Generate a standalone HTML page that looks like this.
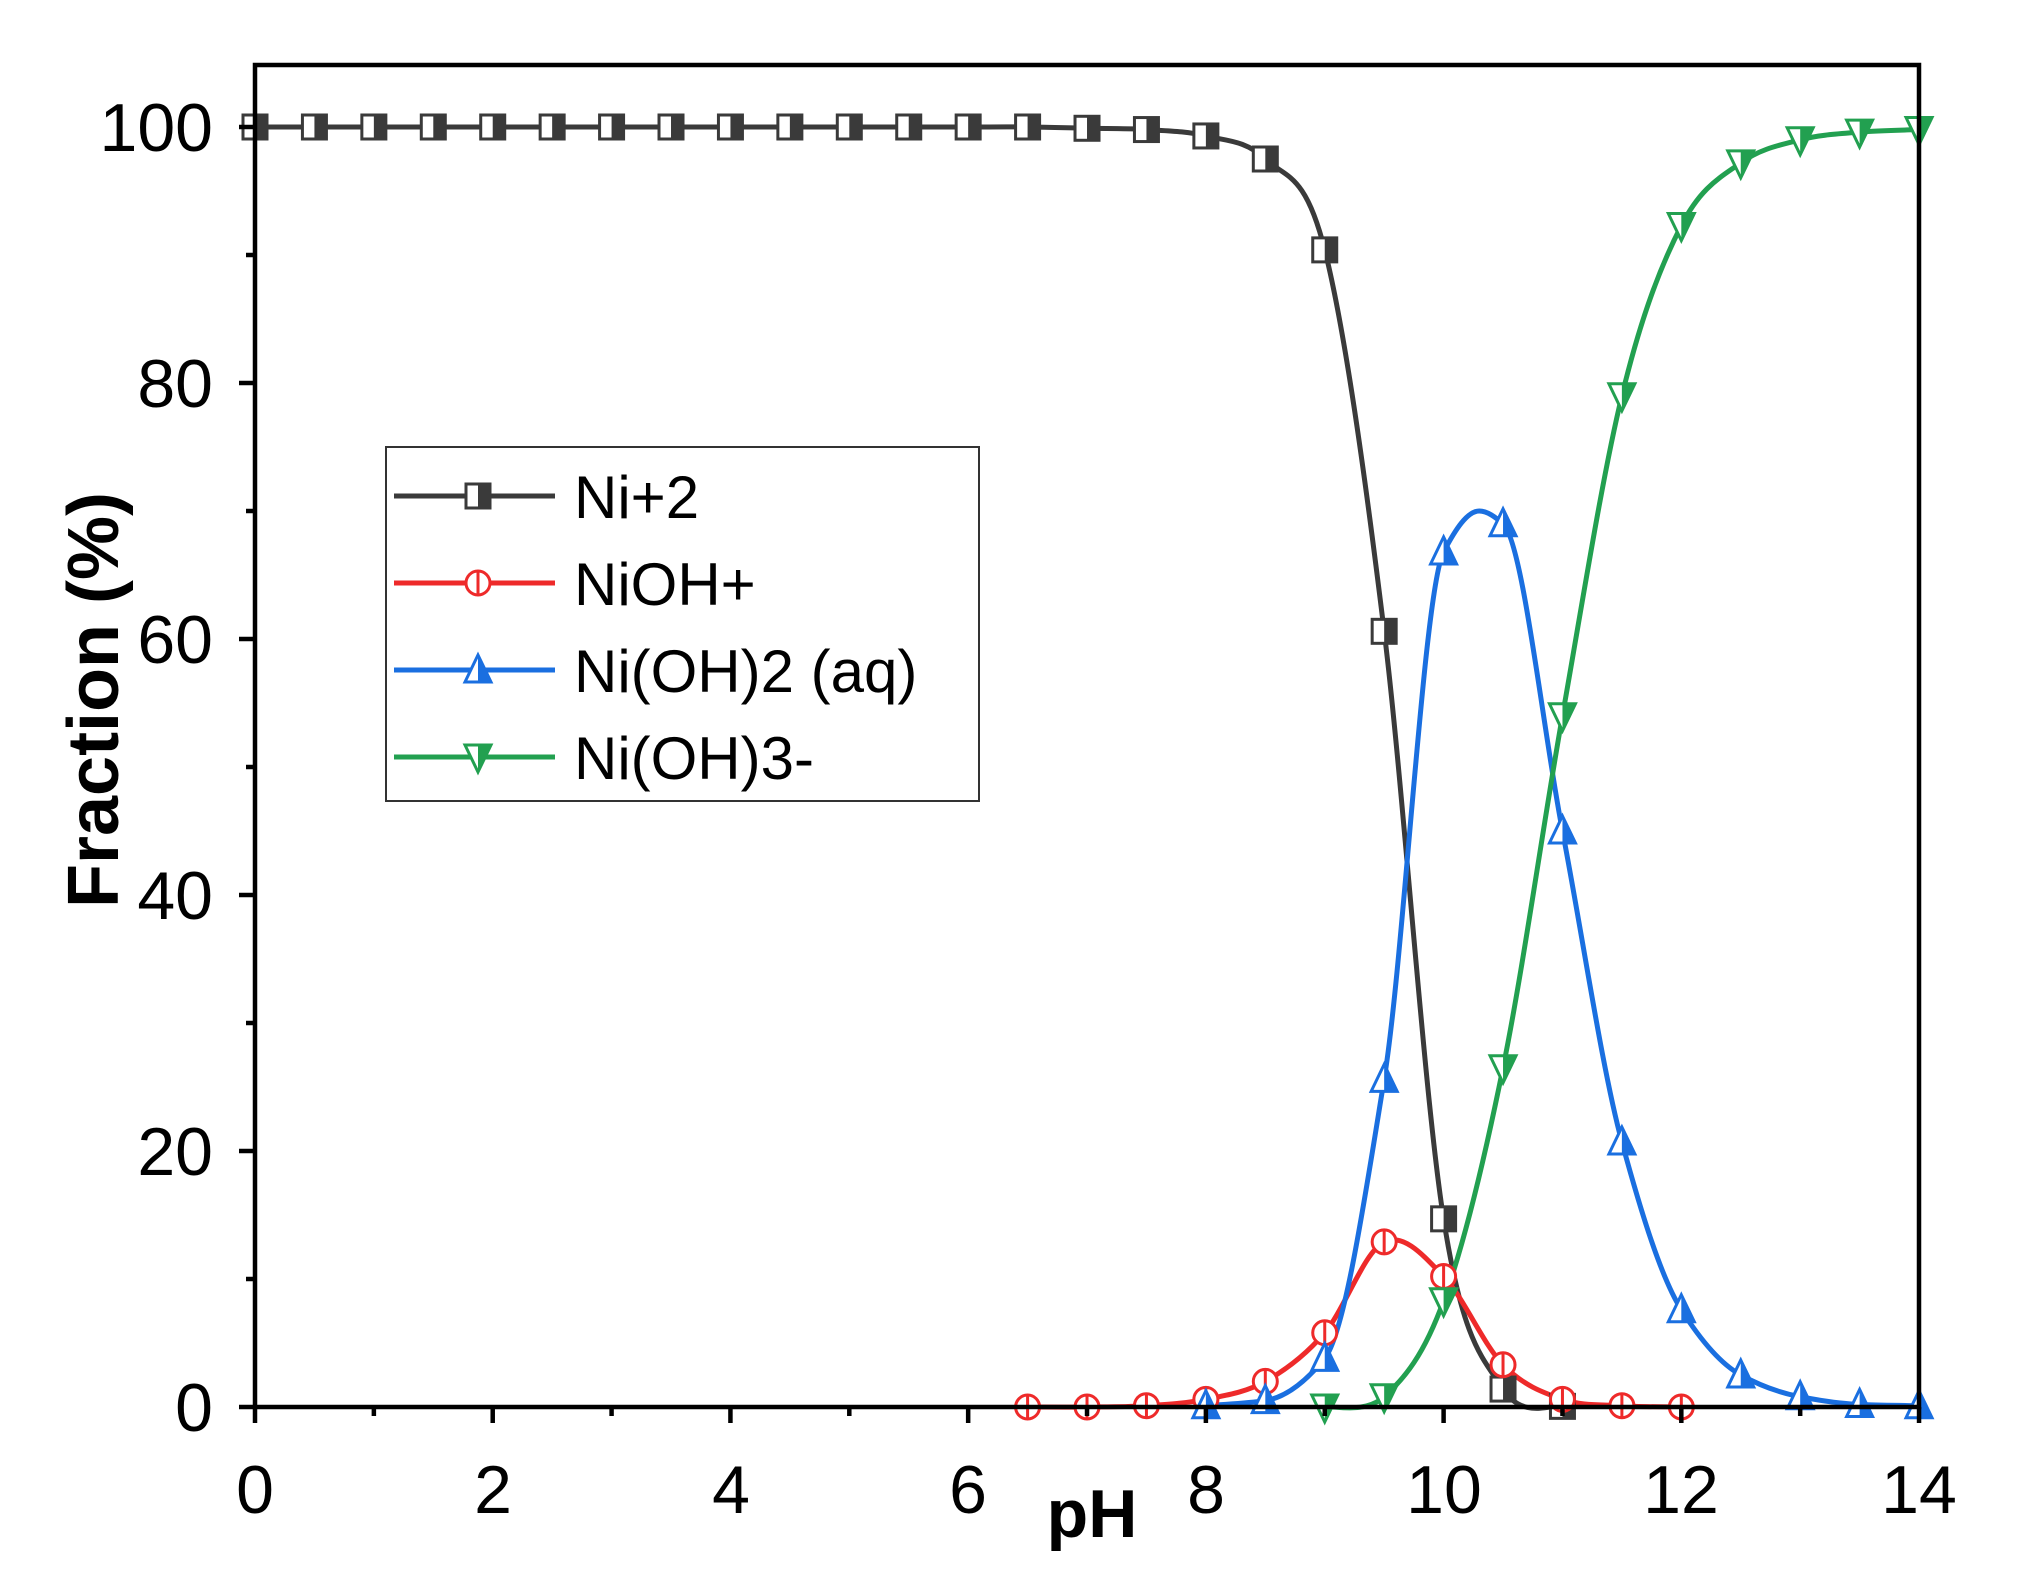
<!DOCTYPE html>
<html><head><meta charset="utf-8"><style>
html,body{margin:0;padding:0;background:#fff;}
svg{display:block;font-family:"Liberation Sans",Arial,sans-serif;}
</style></head><body>
<svg id="s" width="2020" height="1592" viewBox="0 0 2020 1592" xmlns="http://www.w3.org/2000/svg">
<rect x="0" y="0" width="2020" height="1592" fill="#fff"/>
<g id="plot"></g>
<rect x="255" y="65" width="1664" height="1342" fill="none" stroke="#000" stroke-width="4.5"/>
<g id="ticks" stroke="#000" stroke-width="4.5"></g>
<g font-size="68" fill="#000">
<text x="213" y="1431" text-anchor="end">0</text>
<text x="213" y="1175" text-anchor="end">20</text>
<text x="213" y="919" text-anchor="end">40</text>
<text x="213" y="663" text-anchor="end">60</text>
<text x="213" y="407" text-anchor="end">80</text>
<text x="213" y="151" text-anchor="end">100</text>
<g text-anchor="middle">
<text x="255" y="1513">0</text>
<text x="493" y="1513">2</text>
<text x="731" y="1513">4</text>
<text x="968" y="1513">6</text>
<text x="1206" y="1513">8</text>
<text x="1444" y="1513">10</text>
<text x="1681" y="1513">12</text>
<text x="1919" y="1513">14</text>
</g>
</g>
<text x="1092" y="1537" font-size="68" font-weight="bold" text-anchor="middle">pH</text>
<text transform="translate(118,700) rotate(-90)" font-size="72" font-weight="bold" text-anchor="middle">Fraction (%)</text>
<rect x="386" y="447" width="593" height="354" fill="#fff" stroke="#333" stroke-width="2"/>
<g id="leg"></g>
<g font-size="60" fill="#000">
<text x="574" y="518">Ni+2</text>
<text x="574" y="605">NiOH+</text>
<text x="574" y="692">Ni(OH)2 (aq)</text>
<text x="574" y="779">Ni(OH)3-</text>
</g>
</svg>
<script>
const NS="http://www.w3.org/2000/svg";
const X=p=>255+p*118.86, Y=v=>1407-v*12.8;
function el(t,a,parent){const e=document.createElementNS(NS,t);for(const k in a)e.setAttribute(k,a[k]);parent.appendChild(e);return e;}
const ticks=document.getElementById('ticks');
for(let v=0;v<=100;v+=10){const y=Y(v);el('line',{x1:255,x2:255-(v%20==0?16:9),y1:y,y2:y},ticks);}
for(let p=0;p<=14;p++){const x=X(p);el('line',{x1:x,x2:x,y1:1407,y2:1407+(p%2==0?16:9)},ticks);}
const S=[
 {c:'#3a3a3a',m:'sq',d:[[0,100],[0.5,100],[1,100],[1.5,100],[2,100],[2.5,100],[3,100],[3.5,100],[4,100],[4.5,100],[5,100],[5.5,100],[6,100],[6.5,100],[7,99.9],[7.5,99.8],[8,99.3],[8.5,97.5],[9,90.4],[9.5,60.6],[10,14.7],[10.5,1.4],[11,0.05]]},
 {c:'#ee2a2a',m:'ci',d:[[6.5,0],[7,0],[7.5,0.1],[8,0.6],[8.5,2],[9,5.8],[9.5,12.9],[10,10.2],[10.5,3.3],[11,0.6],[11.5,0.1],[12,0]]},
 {c:'#1a6fe0',m:'up',mono:true,d:[[8,0.1],[8.5,0.5],[9,3.8],[9.5,25.6],[10,66.8],[10.3,70],[10.5,69],[11,45],[11.5,20.7],[12,7.6],[12.5,2.5],[13,0.8],[13.5,0.2],[14,0.1]],skip:[10.3]},
 {c:'#22a050',m:'dn',d:[[9,0],[9.5,0.8],[10,8.3],[10.5,26.5],[11,54],[11.5,79],[12,92.3],[12.5,97.2],[13,99],[13.5,99.6],[14,99.8]]}
];
function path(pts){let d=`M${pts[0][0]},${pts[0][1]}`;for(let i=0;i<pts.length-1;i++){const p0=pts[Math.max(0,i-1)],p1=pts[i],p2=pts[i+1],p3=pts[Math.min(pts.length-1,i+2)];d+=` C${p1[0]+(p2[0]-p0[0])/6},${p1[1]+(p2[1]-p0[1])/6} ${p2[0]-(p3[0]-p1[0])/6},${p2[1]-(p3[1]-p1[1])/6} ${p2[0]},${p2[1]}`;}return d;}
function mpath(pts){const n=pts.length,dx=[],m=[],t=[];
 for(let i=0;i<n-1;i++){dx[i]=pts[i+1][0]-pts[i][0];m[i]=(pts[i+1][1]-pts[i][1])/dx[i];}
 t[0]=m[0];t[n-1]=m[n-2];
 for(let i=1;i<n-1;i++){if(m[i-1]*m[i]<=0)t[i]=0;else{const w1=2*dx[i]+dx[i-1],w2=dx[i]+2*dx[i-1];t[i]=(w1+w2)/(w1/m[i-1]+w2/m[i]);}}
 let d=`M${pts[0][0]},${pts[0][1]}`;
 for(let i=0;i<n-1;i++){const h=dx[i]/3;d+=` C${pts[i][0]+h},${pts[i][1]+t[i]*h} ${pts[i+1][0]-h},${pts[i+1][1]-t[i+1]*h} ${pts[i+1][0]},${pts[i+1][1]}`;}
 return d;}
function marker(g,m,x,y,c){const r=12;
 if(m=='sq'){el('rect',{x:x-r,y:y-r,width:2*r,height:2*r,fill:'#fff',stroke:c,'stroke-width':3},g);el('rect',{x:x,y:y-r,width:r,height:2*r,fill:c},g);}
 if(m=='ci'){el('circle',{cx:x,cy:y,r:r,fill:'#fff',stroke:c,'stroke-width':3},g);el('line',{x1:x,x2:x,y1:y-r,y2:y+r,stroke:c,'stroke-width':3},g);}
 if(m=='up'){el('polygon',{points:`${x},${y-r-3} ${x+r+1},${y+r} ${x-r-1},${y+r}`,fill:'#fff',stroke:c,'stroke-width':3},g);el('polygon',{points:`${x},${y-r-3} ${x+r+1},${y+r} ${x},${y+r}`,fill:c},g);}
 if(m=='dn'){el('polygon',{points:`${x},${y+r+3} ${x+r+1},${y-r} ${x-r-1},${y-r}`,fill:'#fff',stroke:c,'stroke-width':3},g);el('polygon',{points:`${x},${y+r+3} ${x+r+1},${y-r} ${x},${y-r}`,fill:c},g);}
}
const plot=document.getElementById('plot');
S.forEach(s=>{const pts=s.d.map(([p,v])=>[X(p),Y(v)]);el('path',{d:s.mono?mpath(pts):path(pts),fill:'none',stroke:s.c,'stroke-width':5},plot);});
S.forEach(s=>{s.d.forEach(([p,v])=>{if(!(s.skip&&s.skip.includes(p)))marker(plot,s.m,X(p),Y(v),s.c);});});
const leg=document.getElementById('leg');
S.forEach((s,i)=>{const y=496+i*87;el('line',{x1:394,x2:555,y1:y,y2:y,stroke:s.c,'stroke-width':5},leg);marker(leg,s.m,478,y,s.c);});
</script>
</body></html>
